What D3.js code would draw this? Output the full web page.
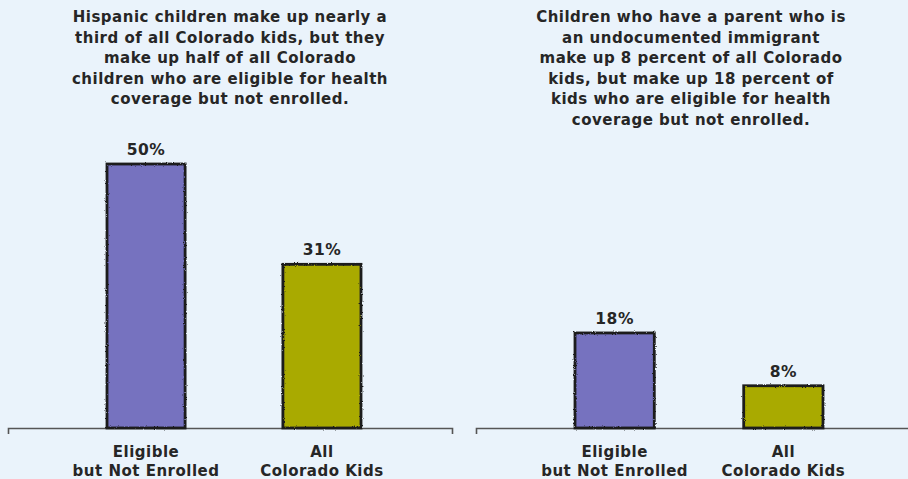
<!DOCTYPE html>
<html>
<head>
<meta charset="utf-8">
<script src="https://cdn.jsdelivr.net/npm/d3@7"></script>
<style>
  body { margin: 0; background: #eaf3fb; }
  text { font-family: "DejaVu Sans", sans-serif; font-weight: 700; fill: #262626; letter-spacing: 0.5px; }
</style>
</head>
<body>
<div id="chart"></div>
<script>
//chart data
var categories = ["Eligible|but Not Enrolled", "All|Colorado Kids"];
var hispanicValues = [50, 31];
var undocumentedValues = [18, 8];
var hispanicTitle = [
    "Hispanic children make up nearly a",
    "third of all Colorado kids, but they",
    "make up half of all Colorado",
    "children who are eligible for health",
    "coverage but not enrolled."
];
var undocumentedTitle = [
    "Children who have a parent who is",
    "an undocumented immigrant",
    "make up 8 percent of all Colorado",
    "kids, but make up 18 percent of",
    "kids who are eligible for health",
    "coverage but not enrolled."
];
var barColors = ["#7672bf", "#a9aa00"];

//svg dimensions
var svgWidth = 908;
var svgHeight = 479;
var baseline = 428;

var svg = d3.select("#chart").append("svg")
    .attr("width", svgWidth)
    .attr("height", svgHeight);

//sketchy outline filter
var defs = svg.append("defs");
var filter = defs.append("filter")
    .attr("id", "rough")
    .attr("x", "-5%").attr("y", "-5%")
    .attr("width", "110%").attr("height", "110%");
filter.append("feTurbulence")
    .attr("type", "fractalNoise")
    .attr("baseFrequency", 0.9)
    .attr("numOctaves", 2)
    .attr("result", "noise");
filter.append("feDisplacementMap")
    .attr("in", "SourceGraphic")
    .attr("in2", "noise")
    .attr("scale", 2.4);

//shared y scale (same pixels per percent in both panels)
var yScale = d3.scaleLinear()
    .domain([0, 50])
    .range([baseline, 164]);

var panels = [
    { values: hispanicValues, title: hispanicTitle, axis: [8, 452], bars: [107, 361], inner: 0.556, center: 230 },
    { values: undocumentedValues, title: undocumentedTitle, axis: [476, 940], bars: [575, 823], inner: 0.53, center: 691 }
];

panels.forEach(function (p) {
    var g = svg.append("g");

    var xScale = d3.scaleBand()
        .domain(categories)
        .range(p.bars)
        .paddingInner(p.inner)
        .paddingOuter(0);

    //baseline axis with end ticks
    var axisScale = d3.scaleLinear().domain([0, 1]).range(p.axis);
    var axis = g.append("g")
        .attr("transform", `translate(0, ${baseline})`)
        .call(d3.axisBottom(axisScale).tickValues([]).tickSizeOuter(6));
    axis.select(".domain")
        .attr("stroke", "#555")
        .attr("stroke-width", 1.6);

    //title
    var title = g.append("text")
        .attr("text-anchor", "middle")
        .attr("font-size", "15px");
    title.selectAll("tspan")
        .data(p.title)
        .enter()
        .append("tspan")
        .attr("x", p.center)
        .attr("y", (d, i) => 22 + i * 20.6)
        .text(d => d);

    //bars
    g.selectAll("rect")
        .data(p.values)
        .enter()
        .append("rect")
        .attr("x", (d, i) => xScale(categories[i]))
        .attr("y", d => yScale(d))
        .attr("width", xScale.bandwidth())
        .attr("height", d => baseline - yScale(d))
        .attr("fill", (d, i) => barColors[i])
        .attr("stroke", "#1a1a1a")
        .attr("stroke-width", 2.8)
        .attr("filter", "url(#rough)");

    //value labels
    g.selectAll(".value")
        .data(p.values)
        .enter()
        .append("text")
        .classed("value", true)
        .attr("text-anchor", "middle")
        .attr("font-size", "15.5px")
        .attr("x", (d, i) => xScale(categories[i]) + xScale.bandwidth() / 2)
        .attr("y", d => yScale(d) - 9)
        .text(d => d + "%");

    //category labels
    var cats = g.selectAll(".cat")
        .data(categories)
        .enter()
        .append("text")
        .classed("cat", true)
        .attr("text-anchor", "middle")
        .attr("font-size", "15px");
    cats.selectAll("tspan")
        .data(d => d.split("|").map(t => ({ t: t, c: d })))
        .enter()
        .append("tspan")
        .attr("x", d => xScale(d.c) + xScale.bandwidth() / 2)
        .attr("y", (d, i) => 457 + i * 18.5)
        .text(d => d.t);
});
</script>
</body>
</html>
